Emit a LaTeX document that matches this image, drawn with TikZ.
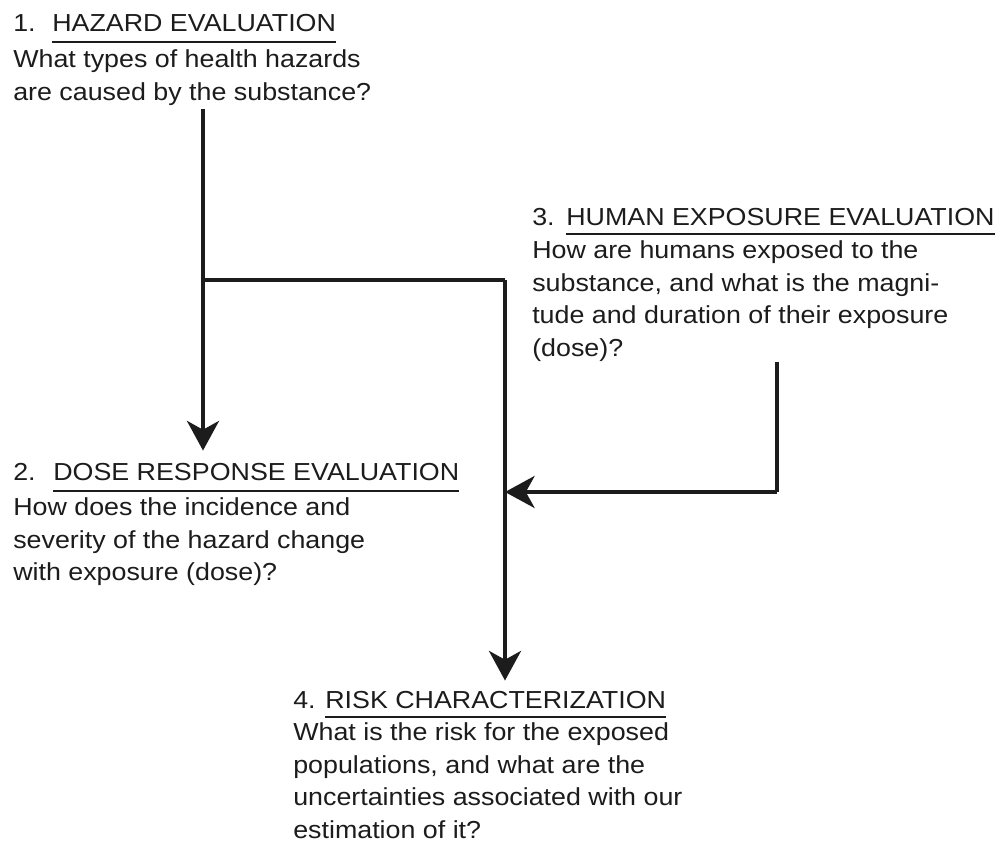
\documentclass[tikz,border=0pt]{standalone}
\usepackage{fontspec}
\setmainfont[FakeStretch=1.09]{Liberation Sans}
\usetikzlibrary{arrows.meta,calc}
\definecolor{ink}{HTML}{1C1C1C}

\begin{document}
\begin{tikzpicture}[
  x=0.025cm, y=-0.025cm,
  font=\fontsize{17.5pt}{23.4pt}\selectfont,
  num/.style={inner sep=0pt, anchor=base west, text=ink},
  head/.style={inner sep=0pt, anchor=base west, text=ink},
  body/.style={inner sep=0pt, anchor=north west, align=left, text=ink},
  rule/.style={draw=ink, line width=1.4pt},
  link/.style={draw=ink, line width=2.7pt},
  flow/.style={link, -{Stealth[length=0.74cm, width=0.8cm, inset=0.22cm]}}
]
\useasboundingbox (0,0) rectangle (997,846);

% ------------------------------------------------------------------
% 1. hazard evaluation
% ------------------------------------------------------------------
\node[num] (hazNum) at (13,32) {1.};
\node[head] (hazHead) at (52,32) {HAZARD EVALUATION};
\draw[rule] ($(hazHead.base west)+(0,10)$) -- ($(hazHead.base east)+(0,10)$);
\node[body] (hazBody) at (13,49) {What types of health hazards\\are caused by the substance?};

% ------------------------------------------------------------------
% 2. dose response evaluation
% ------------------------------------------------------------------
\node[num] (doseNum) at (13,480) {2.};
\node[head] (doseHead) at (53,480) {DOSE RESPONSE EVALUATION};
\draw[rule] ($(doseHead.base west)+(0,11)$) -- ($(doseHead.base east)+(0,11)$);
\node[body] (doseBody) at (13,497) {How does the incidence and\\severity of the hazard change\\with exposure (dose)?};

% ------------------------------------------------------------------
% 3. human exposure evaluation
% ------------------------------------------------------------------
\node[num] (expNum) at (532,225) {3.};
\node[head] (expHead) at (566,225) {HUMAN EXPOSURE EVALUATION};
\draw[rule] ($(expHead.base west)+(0,9)$) -- ($(expHead.base east)+(0,9)$);
\node[body] (expBody) at (532,240) {How are humans exposed to the\\substance, and what is the magni-\\tude and duration of their exposure\\(dose)?};

% ------------------------------------------------------------------
% 4. risk characterization
% ------------------------------------------------------------------
\node[num] (riskNum) at (293,708) {4.};
\node[head] (riskHead) at (325,708) {RISK CHARACTERIZATION};
\draw[rule] ($(riskHead.base west)+(0,9)$) -- ($(riskHead.base east)+(0,9)$);
\node[body] (riskBody) at (293,722) {What is the risk for the exposed\\populations, and what are the\\uncertainties associated with our\\estimation of it?};

% connectors
\coordinate (split) at (203,280);
\coordinate (join) at (505,280);
\coordinate (expFoot) at (777,492);
\coordinate (merge) at (505,492);

\draw[flow, shorten <=0.1cm, shorten >=0.3cm] (split |- hazBody.south) -- (split |- doseHead.north);
\draw[link] (split) -- (join);
\draw[flow, shorten >=0.25cm] (join) -- (join |- riskHead.north);
\draw[link] (expFoot |- expBody.south) -- (expFoot);
\draw[flow] (expFoot) -- (merge);

\end{tikzpicture}
\end{document}
